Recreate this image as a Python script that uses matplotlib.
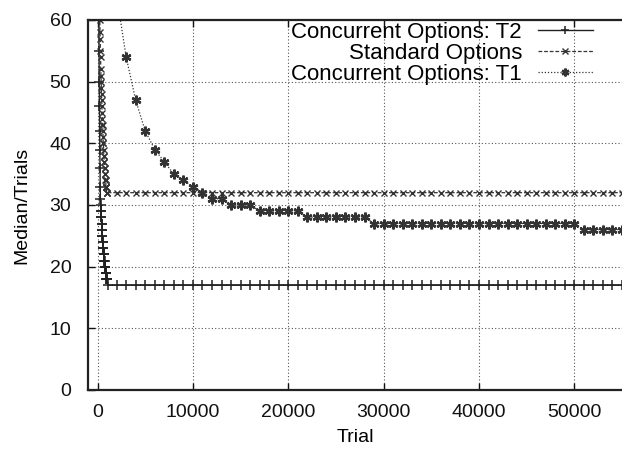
import matplotlib
matplotlib.use('Agg')
import matplotlib.pyplot as plt

plt.rcParams['font.family'] = ['Liberation Sans', 'DejaVu Sans']

# Concurrent Options: T2  (dense samples at the start, then every 1000 trials)
t2_x = [100, 120, 140, 160, 180, 200, 220, 240, 260, 280, 300, 320, 340, 360,
        380, 400, 420, 440, 460, 480, 500, 520, 540, 560, 580, 600, 620, 640,
        660, 680, 700, 720, 740, 760, 780, 800, 820, 840, 860, 880, 900, 920,
        940, 960, 980, 1000, 1100] + list(range(2000, 56000, 1000))
t2_y = [75, 66, 60, 55, 50, 46, 42, 39, 36, 33, 31, 30, 29, 29,
        28, 28, 27, 27, 26, 26, 25, 25, 24, 24, 23, 23, 23, 22,
        22, 22, 21, 21, 21, 20, 20, 20, 20, 19, 19, 19, 19, 18,
        18, 18, 18, 18, 17] + [17] * 54

# Standard Options
std_x = [160, 180, 200, 220, 240, 260, 280, 300, 320, 340, 360, 380, 400, 420,
         440, 460, 480, 500, 520, 540, 560, 580, 600, 620, 640, 660, 680, 700,
         720, 740, 760, 780, 800, 820, 840, 860, 880, 900, 920, 940, 960, 980,
         1000] + list(range(2000, 56000, 1000))
std_y = [72, 68, 65, 62, 60, 58, 57, 55, 54, 52, 51, 50, 49, 48,
         47, 46, 45, 44, 43, 43, 42, 41, 40, 40, 39, 38, 38, 37,
         37, 36, 36, 35, 35, 34, 34, 34, 33, 33, 33, 33, 32, 32,
         32] + [32] * 54

# Concurrent Options: T1
t1_x = list(range(2000, 56000, 1000))
t1_y = [64, 54, 47, 42, 39, 37, 35, 34, 33, 32, 31, 31,
        30, 30, 30, 29, 29, 29, 29, 29,
        28, 28, 28, 28, 28, 28, 28] + [27] * 22 + [26] * 5

labels = ['Concurrent Options: T2', 'Standard Options', 'Concurrent Options: T1']
x_ticks = [0, 10000, 20000, 30000, 40000, 50000]
y_ticks = [0, 10, 20, 30, 40, 50, 60]

fig = plt.figure(figsize=(6.22, 4.55), dpi=100)
ax = fig.add_axes([88 / 622, 1 - 390 / 455, 534 / 622, 370 / 455])

ax.plot(t2_x, t2_y, color='#222222', lw=1.0, ls='-', marker='+', ms=7,
        mew=1.1, label=labels[0])
ax.plot(std_x, std_y, color='#333333', lw=0.9, ls=(0, (3, 1.5)), marker='x',
        ms=5, mew=1.0, label=labels[1])
ax.plot(t1_x, t1_y, color='#333333', lw=0.9, ls=(0, (1, 1.5)),
        marker=(6, 2, 0), ms=7, mew=1.7, label=labels[2])

ax.set_xlim(-1000, 55000)
ax.set_ylim(0, 60)
ax.set_xticks(x_ticks)
ax.set_yticks(y_ticks)
ax.grid(True, color='#555555', ls=(0, (1, 2)), lw=0.8)

ax.tick_params(axis='both', direction='in', length=5, width=1.0,
               labelsize=14, top=True, right=False, colors='#111111')
ax.tick_params(axis='y', pad=12)
ax.tick_params(axis='x', pad=10)
for s in ['left', 'bottom', 'top']:
    ax.spines[s].set_linewidth(1.6)
    ax.spines[s].set_color('#222222')
ax.spines['right'].set_visible(False)

ax.set_xlabel('Trial', fontsize=14, labelpad=6)
ax.set_ylabel('Median/Trials', fontsize=14)
ax.yaxis.set_label_coords(-0.108, 0.5)

leg = ax.legend(loc='upper right', markerfirst=False, frameon=False,
                fontsize=16, handlelength=2.5, handletextpad=0.7,
                labelspacing=0.0, borderaxespad=0.0, borderpad=0.0,
                bbox_to_anchor=(0.946, 0.995), markerscale=0.8)

fig.savefig('out.png', dpi=100)
